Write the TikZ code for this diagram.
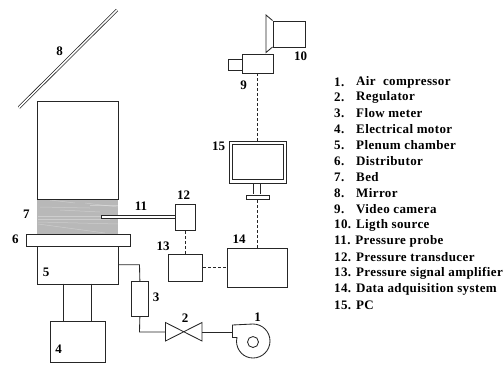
\documentclass[tikz,border=0pt]{standalone}
\usepackage{fontspec}
\setmainfont{Liberation Serif}
\begin{document}
\begin{tikzpicture}[x=1pt,y=-1pt,
  box/.style={draw=black!85,line width=0.85pt,inner sep=0pt},
  conn/.style={draw=black!85,line width=0.85pt},
  sig/.style={draw=black!85,line width=0.85pt,densely dashed},
  lbl/.style={font=\bfseries\fontsize{13}{13}\selectfont,inner sep=0pt},
  legend/.style={font=\bfseries\fontsize{13}{13}\selectfont\addfontfeature{LetterSpace=3},inner sep=0pt,anchor=west}]
\useasboundingbox (0,0) rectangle (504,365);
% bed fill
\fill[black!28] (37,199) rectangle (118,234);
\foreach \a/\b/\c/\d in {50/200/75/203,40/207/90/208,85/203/118/207,60/210/100/212,38/216/105/216,38/219/110/219,38/222/118/224,38/224/105/233,90/205/118/205}
  \draw[white,opacity=.3,line width=.5pt] (\a,\b)--(\c,\d);
% column
\node[box,minimum width=81pt,minimum height=98pt,anchor=north west] (col) at (37,100.5) {};
\draw[conn] (37,199)--(118,199);
% distributor, plenum, motor
\node[box,minimum width=104pt,minimum height=11.5pt,anchor=north west,fill=white] (dist) at (25.5,234) {};
\node[box,minimum width=81pt,minimum height=37.5pt,anchor=north west] (plen) at (37,246) {};
\node[box,minimum width=55pt,minimum height=41pt,anchor=north west] (motor) at (50,320.5) {};
\draw[conn] (63.5,283.5)--(63.5,320.5) (91,283.5)--(91,320.5);
% probe
\node[box,minimum width=20pt,minimum height=26.5pt,anchor=north west] (t12) at (174.5,203.5) {};
\draw[conn,fill=white] (174.5,215)--(101.5,215)--(101.5,218.2)--(174.5,218.2);
% flow line
\node[box,minimum width=17.5pt,minimum height=34.5pt,anchor=north west] (fm) at (130.7,281) {};
\draw[conn] (118,264.8)--(139.5,264.8)--(fm.north);
\coordinate (vL) at (165.5,332);
\draw[conn] (fm.south)--(139.5,332)--(vL);
% valve
\draw[conn] (165.5,322.5)--(202,341)--(202,322.5)--(165.5,341)--cycle;
\draw[conn] (202,332)--(232.5,332);
% compressor
\draw[conn] (253,324)--(232.5,325)--(232.5,337.5)--(237,337.5)--(236.5,341)
  .. controls (236.5,350.4) and (243.6,358) .. (253,358)
  .. controls (262.4,358) and (270,350.4) .. (270,341)
  .. controls (270,331.6) and (262.4,324) .. (253,324);
\draw[conn] (253,342) circle[radius=5.5pt];
% amp, DAQ
\node[box,minimum width=34.5pt,minimum height=27.5pt,anchor=north west] (amp) at (167.5,253.5) {};
\node[box,minimum width=60.5pt,minimum height=39.5pt,anchor=north west] (daq) at (226.5,247.5) {};
\draw[sig] (t12.south)--(amp.north -| t12.south);
\draw[sig] (amp.east)--(daq.west |- amp.east);
% PC
\node[box,minimum width=57pt,minimum height=42.5pt,anchor=north west] (pc) at (229,140.5) {};
\node[box,minimum width=51pt,minimum height=35.5pt,anchor=north west] (scr) at (232,143.5) {};
\draw[conn] (253.5,183)--(253.5,194) (260.5,183)--(260.5,194);
\node[box,minimum width=23.5pt,minimum height=4.5pt,anchor=north west,fill=white] (base) at (245.5,194.5) {};
\draw[sig] (257,247.5)--(257,199);
% camera
\node[box,minimum width=31pt,minimum height=19pt,anchor=north west] (cam) at (241.5,54) {};
\node[box,minimum width=14pt,minimum height=11pt,anchor=north west] (lens) at (227.5,58.5) {};
\draw[sig] (257,73)--(257,140.5);
% light
\node[box,minimum width=32pt,minimum height=26.5pt,anchor=north west] (light) at (272.5,20.5) {};
\draw[conn] (272.5,20.5)--(266,15)--(266,52.5)--(272.5,47);
% mirror
\draw[draw=black!85,line width=3pt] (19,107.5)--(117,10);
\draw[draw=white,line width=1.5pt] (19,107.5)--(117,10);
% labels
\node[lbl] (l8) at (59.5,51) {8};
\node[lbl] (l7) at (26.5,214.5) {7};
\node[lbl] (l6) at (15.5,239.5) {6};
\node[lbl] (l5) at (46,272) {5};
\node[lbl] (l4) at (58.5,349) {4};
\node[lbl] (l3) at (156,297.5) {3};
\node[lbl] (l2) at (185,318) {2};
\node[lbl] (l1) at (257.5,317) {1};
\node[lbl] (l11) at (141,206) {11};
\node[lbl] (l12) at (183.5,195) {12};
\node[lbl] (l13) at (163,246.5) {13};
\node[lbl] (l14) at (239,239) {14};
\node[lbl] (l15) at (218.5,146) {15};
\node[lbl] (l9) at (243.5,85) {9};
\node[lbl] (l10) at (300.5,56.5) {10};
% legend
\foreach \y/\n/\t in {82/1./Air\ \ compressor,97.5/2./Regulator,113.5/3./Flow meter,129.5/4./Electrical motor,145.5/5./Plenum chamber,161.5/6./Distributor,177.5/7./Bed,193.5/8./Mirror,209.5/9./Video camera}{
  \node[legend] (n\n) at (334,\y) {\n};
  \node[legend] (t\n) at (356,\y) {\t};
}
\node[legend] (t10) at (334,225.5) {10. Ligth source};
\node[legend] (t11) at (334,241.5) {11. Pressure probe};
\node[legend] (t12l) at (334,257.5) {12. Pressure transducer};
\node[legend] (t13) at (334,273) {13. Pressure signal amplifier};
\node[legend] (t14) at (334,289) {14. Data adquisition system};
\node[legend] (t15) at (334,305) {15. PC};
\end{tikzpicture}
\end{document}
